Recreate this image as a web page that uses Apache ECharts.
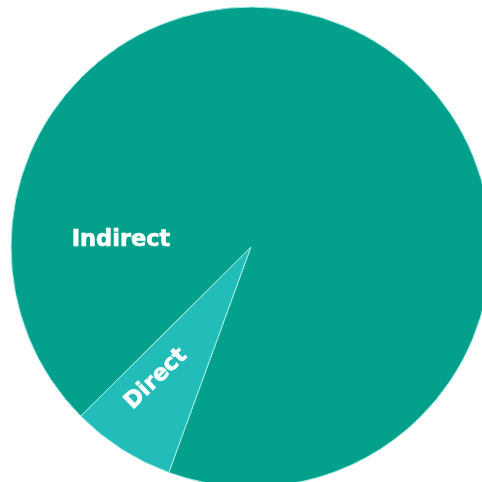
<!DOCTYPE html>
<html>
<head>
<meta charset="utf-8">
<script src="https://cdn.jsdelivr.net/npm/echarts@6/dist/echarts.min.js"></script>
<style>html,body{margin:0;padding:0;background:#fff}#c{width:482px;height:482px}</style>
</head>
<body>
<div id="c"></div>
<script>
const categories = ['Direct', 'Indirect'];
const values = [7, 93];
const colors = ['#22bdb9', '#03a08c'];

const chart = echarts.init(document.getElementById('c'), null, {renderer: 'canvas'});
chart.setOption({
  animation: false,
  series: [{
    type: 'pie',
    center: [251, 247],
    radius: 240,
    startAngle: 250,
    clockwise: true,
    data: categories.map((n, i) => ({name: n, value: values[i], itemStyle: {color: colors[i]}})),
    itemStyle: {borderColor: '#a6ece6', borderWidth: 1},
    label: {
      show: true,
      position: 'inside',
      formatter: '{b}',
      color: '#fff',
      fontFamily: 'DejaVu Sans',
      fontWeight: 'bold',
      fontSize: 22.5,
      textBorderColor: '#fff',
      textBorderWidth: 0.6
    },
    labelLine: {show: false},
    labelLayout: function (p) {
      if (p.dataIndex === 0) return {x: 156, y: 379, rotate: 44, align: 'center', verticalAlign: 'middle'};
      return {x: 121, y: 240, rotate: 0, align: 'center', verticalAlign: 'middle'};
    }
  }]
});
</script>
</body>
</html>
